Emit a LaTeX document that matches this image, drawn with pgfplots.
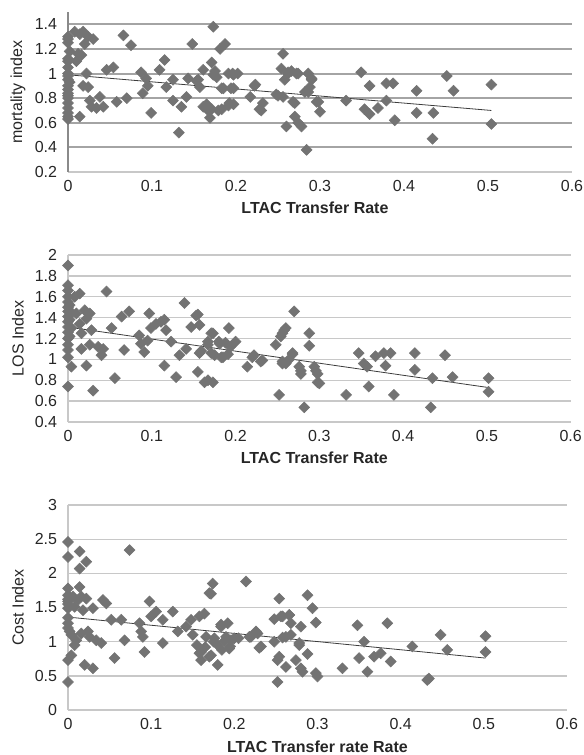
\documentclass[border=0pt]{standalone}
\usepackage{fontspec}
\setmainfont{Liberation Sans}
\usepackage{pgfplots}
\pgfplotsset{compat=1.18}

\definecolor{markgray}{HTML}{737373}
\definecolor{trendgray}{HTML}{3C3C3C}
\definecolor{griddark}{HTML}{A4A4A4}
\definecolor{gridlight}{HTML}{C8C8C8}
\definecolor{axisdark}{HTML}{8A8A8A}

\pgfplotsset{
  ltac/.style={
    scale only axis,
    clip=false,
    xmin=0, xmax=0.6,
    xtick={0,0.1,0.2,0.3,0.4,0.5,0.6},
    axis x line*=bottom, axis y line*=left,
    major tick length=0pt,
    ymajorgrids,
    /pgf/number format/assume math mode=true,
    tick label style={font=\fontsize{12}{14}\selectfont, text=black!85},
    xticklabel style={anchor=center, yshift=-10.5pt},
    yticklabel style={anchor=east, inner sep=0pt, xshift=-8pt},
    label style={font=\fontsize{12}{14}\selectfont, text=black!85},
    xlabel style={font=\fontsize{12}{14}\selectfont\bfseries, anchor=center,
      at={([yshift=-26.5pt]axis description cs:0.49,0)}},
    ylabel style={anchor=center, rotate=0,
      at={([xshift=-37.5pt]axis description cs:0,0.5)}},
  },
  pts/.style={only marks, mark=square*, mark size=2.9pt,
    mark options={rotate=45, fill=markgray, draw=markgray}},
  trend/.style={no marks, draw=trendgray, line width=0.6pt},
}

\begin{document}
\begin{tikzpicture}
\useasboundingbox (0,0) rectangle (438pt,-566.25pt);

% mortality index
\begin{axis}[ltac, at={(51pt,-129pt)}, anchor=south west,
  width=378pt, height=120pt,
  ymin=0.2, ymax=1.5, ytick={0.2,0.4,0.6,0.8,1,1.2,1.4},
  grid style={draw=griddark, line width=1.5pt},
  y axis line style={draw=axisdark, line width=2pt},
  x axis line style={draw=gridlight, line width=1.5pt},
  xlabel={LTAC Transfer Rate}, ylabel={mortality index}]
\addplot[pts] coordinates {
(0,1.30)(0,1.28)(0,1.25)(0,1.12)(0,1.10)(0,1.05)(0,1.00)(0,0.98)(0,0.95)(0,0.90)
(0,0.87)(0,0.84)(0,0.82)(0,0.80)(0,0.76)(0,0.72)(0,0.68)(0,0.65)(0,0.63)(0.002,1.18)(0.002,0.93)
(0.008,1.34)(0.014,1.32)(0.018,1.34)(0.020,1.24)(0.024,1.30)(0.030,1.28)(0.012,1.16)(0.016,1.15)
(0.010,1.10)(0.014,0.65)(0.022,1.00)(0.024,0.89)(0.018,0.90)(0.026,0.78)(0.028,0.73)(0.034,0.72)
(0.038,0.81)(0.042,0.73)(0.046,1.03)(0.054,1.05)(0.058,0.77)(0.066,1.31)(0.070,0.80)(0.075,1.23)
(0.087,1.01)(0.093,0.96)(0.089,0.84)(0.095,0.90)(0.099,0.68)(0.109,1.03)(0.115,1.11)(0.117,0.89)
(0.125,0.95)(0.125,0.78)(0.135,0.73)(0.132,0.52)(0.141,0.81)(0.143,0.96)(0.148,1.24)(0.155,0.95)
(0.157,0.89)(0.161,1.03)(0.161,0.73)(0.167,0.70)(0.169,0.64)(0.173,1.38)(0.171,1.09)(0.173,0.99)
(0.179,0.70)(0.181,1.20)(0.187,1.24)(0.183,0.88)(0.191,1.00)(0.192,0.76)(0.194,0.88)(0.196,1.00)
(0.202,1.00)(0.217,0.81)(0.222,0.90)(0.230,0.70)(0.232,0.76)(0.250,0.82)(0.256,1.16)(0.254,1.04)
(0.258,0.95)(0.260,0.57)(0.262,1.00)(0.268,0.77)(0.270,0.65)(0.274,0.60)
(0.175,1.02)(0.177,0.97)(0.197,0.99)(0.185,0.88)(0.197,0.88)(0.153,0.94)(0.223,0.91)(0.165,0.75)
(0.171,0.71)(0.183,0.71)(0.191,0.74)(0.197,0.75)(0.228,0.71)(0.266,1.02)(0.274,1.00)(0.286,1.00)
(0.290,0.95)(0.248,0.83)(0.256,0.81)(0.270,0.76)(0.286,0.85)(0.298,0.77)(0.300,0.69)(0.278,0.57)
(0.284,0.38)(0.288,0.89)(0.282,0.85)
(0.331,0.78)(0.349,1.01)(0.353,0.71)(0.359,0.67)(0.359,0.90)(0.369,0.72)(0.379,0.78)(0.379,0.92)
(0.387,0.92)(0.389,0.62)(0.415,0.86)(0.415,0.68)(0.435,0.68)(0.434,0.47)(0.451,0.98)(0.459,0.86)
(0.504,0.91)(0.504,0.59)(0.296,0.77)(0.290,0.96)(0.262,1.01)(0.272,1.00)
};
\addplot[trend] coordinates {(0,0.99)(0.504,0.70)};
\end{axis}

% LOS index
\begin{axis}[ltac, at={(51pt,-316.5pt)}, anchor=south west,
  width=377pt, height=125.25pt,
  ymin=0.4, ymax=2, ytick={0.4,0.6,0.8,1,1.2,1.4,1.6,1.8,2},
  grid style={draw=gridlight, line width=1pt},
  y axis line style={draw=gridlight, line width=1pt},
  x axis line style={draw=gridlight, line width=1pt},
  xlabel={LTAC Transfer Rate}, ylabel={LOS Index}]
\addplot[pts] coordinates {
(0,1.90)(0,1.71)(0,1.66)(0,1.60)(0,1.55)(0,1.50)(0,1.46)(0,1.41)(0,1.36)(0,1.31)(0,1.26)
(0,1.20)(0,1.14)(0,1.09)(0,1.02)(0,0.74)(0.002,1.52)(0.002,1.38)(0.002,1.22)(0.004,1.45)(0.004,1.30)
(0.004,0.93)(0.008,1.60)(0.010,1.44)(0.014,1.63)(0.014,1.34)(0.016,1.25)(0.016,1.10)(0.020,1.47)
(0.022,1.39)(0.022,0.94)(0.026,1.44)(0.028,1.28)(0.026,1.14)(0.030,0.70)(0.036,1.12)(0.040,1.04)
(0.042,1.10)(0.046,1.65)(0.052,1.30)(0.056,0.82)(0.064,1.41)(0.067,1.09)(0.073,1.46)(0.085,1.23)
(0.087,1.15)(0.091,1.07)(0.095,1.18)(0.097,1.44)(0.099,1.30)(0.105,1.34)(0.111,1.36)(0.115,1.38)
(0.117,1.28)(0.123,1.17)(0.115,0.94)(0.129,0.83)(0.133,1.04)(0.139,1.54)(0.141,1.10)(0.147,1.31)
(0.153,1.42)(0.157,1.33)(0.157,1.06)(0.155,0.88)(0.163,0.78)(0.173,0.78)(0.167,1.14)(0.171,1.25)
(0.175,1.04)(0.181,1.15)(0.185,1.02)(0.192,1.30)(0.194,1.12)(0.200,1.17)(0.214,0.93)(0.222,1.04)
(0.232,0.99)(0.248,1.14)(0.252,0.66)(0.254,1.22)(0.258,1.28)(0.270,1.46)(0.264,1.00)(0.260,0.96)
(0.155,1.43)(0.173,1.25)(0.167,1.17)(0.180,1.17)(0.188,1.16)(0.159,1.08)(0.171,1.06)(0.183,1.02)
(0.191,1.05)(0.167,0.80)(0.220,1.02)(0.230,0.98)(0.256,0.96)(0.268,1.05)(0.288,1.25)(0.288,1.13)
(0.278,0.89)(0.296,0.89)(0.298,0.78)(0.282,0.54)
(0.256,1.25)(0.260,1.30)(0.268,1.06)(0.256,0.98)(0.276,0.93)(0.278,0.86)(0.294,0.93)(0.298,0.86)
(0.300,0.77)(0.332,0.66)(0.347,1.06)(0.353,0.96)(0.357,0.93)(0.359,0.74)(0.367,1.03)(0.377,1.06)
(0.379,0.94)(0.385,1.06)(0.389,0.66)(0.414,1.06)(0.414,0.90)(0.435,0.82)(0.433,0.54)(0.450,1.04)
(0.459,0.83)(0.502,0.82)(0.502,0.69)
};
\addplot[trend] coordinates {(0,1.31)(0.502,0.73)};
\end{axis}

% Cost index
\begin{axis}[ltac, at={(51pt,-532.5pt)}, anchor=south west,
  width=374.25pt, height=153.75pt,
  ymin=0, ymax=3, ytick={0,0.5,1,1.5,2,2.5,3},
  grid style={draw=gridlight, line width=1pt},
  y axis line style={draw=gridlight, line width=1pt},
  x axis line style={draw=gridlight, line width=1pt},
  xlabel style={at={([yshift=-27.75pt]axis description cs:0.5,0)}},
  xlabel={LTAC Transfer rate Rate}, ylabel={Cost Index}]
\addplot[pts] coordinates {
(0,2.46)(0,2.24)(0,1.78)(0,1.68)(0,1.59)(0,1.49)(0,1.27)(0,1.20)(0.004,1.10)(0,0.73)(0.004,0.80)
(0,0.41)(0,1.62)(0,1.55)(0,1.35)(0.002,1.15)
(0.006,1.66)(0.008,1.51)(0.012,1.61)(0.014,2.32)(0.014,2.07)(0.014,1.80)(0.016,1.66)(0.018,1.46)
(0.010,1.02)(0.008,0.95)(0.016,1.12)(0.022,2.17)(0.022,1.63)(0.024,1.15)(0.026,1.07)(0.020,0.66)
(0.030,0.61)(0.030,1.49)(0.034,1.02)(0.040,0.98)(0.042,1.61)(0.046,1.56)(0.052,1.32)(0.056,0.76)
(0.064,1.32)(0.068,1.02)(0.074,2.34)(0.086,1.27)(0.088,1.15)(0.090,1.07)(0.092,0.85)(0.098,1.59)
(0.100,1.37)(0.106,1.44)(0.114,1.32)(0.114,0.98)(0.126,1.44)(0.132,1.15)(0.142,1.22)(0.148,1.32)
(0.158,1.37)(0.158,0.83)(0.160,0.73)(0.164,1.41)(0.166,1.07)(0.170,0.78)(0.172,1.70)(0.174,1.85)
(0.180,0.66)(0.184,1.22)(0.190,1.07)(0.194,0.90)(0.196,1.02)(0.214,1.88)(0.220,1.07)(0.228,1.12)
(0.232,0.93)(0.248,1.00)(0.252,0.41)(0.254,1.63)(0.252,0.73)(0.258,1.37)(0.262,0.63)(0.262,1.07)
(0.170,1.71)(0.192,1.27)(0.184,1.25)(0.176,1.05)(0.188,1.01)(0.200,1.05)(0.160,0.85)(0.172,0.80)
(0.226,1.15)(0.218,1.07)(0.230,0.91)(0.248,1.33)(0.266,1.39)(0.280,1.22)(0.288,1.68)(0.294,1.49)
(0.298,1.28)(0.258,1.06)(0.278,0.95)(0.288,0.82)(0.254,0.78)(0.274,0.73)(0.280,0.61)(0.298,0.54)
(0.150,1.10)(0.155,0.95)(0.165,0.92)(0.175,1.00)(0.180,0.95)(0.185,0.88)(0.195,0.93)(0.205,1.05)
(0.256,1.37)(0.266,1.39)(0.268,1.27)(0.268,1.10)(0.278,0.98)(0.282,0.56)(0.300,0.49)(0.330,0.61)
(0.348,1.24)(0.356,1.00)(0.350,0.76)(0.360,0.56)(0.368,0.78)(0.376,0.83)(0.384,1.27)(0.388,0.71)
(0.414,0.93)(0.432,0.44)(0.434,0.46)(0.448,1.10)(0.456,0.88)(0.502,1.08)(0.502,0.85)
};
\addplot[trend] coordinates {(0,1.36)(0.502,0.76)};
\end{axis}
\end{tikzpicture}
\end{document}
